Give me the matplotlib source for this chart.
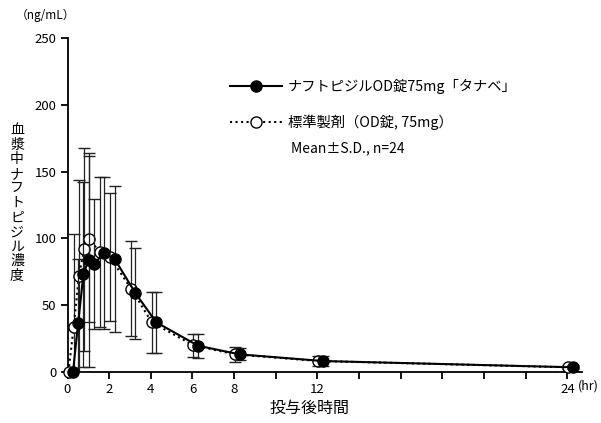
import matplotlib
matplotlib.use("Agg")
import matplotlib.pyplot as plt
from matplotlib.lines import Line2D
from matplotlib.transforms import ScaledTranslation

plt.rcParams['font.family'] = ['Noto Sans CJK JP', 'DejaVu Sans']

# sampling times (hr)
times = [0, 0.25, 0.5, 0.75, 1, 1.5, 2, 3, 4, 6, 8, 12, 24]

# ナフトピジルOD錠75mg「タナベ」 (filled)
test_mean = [0, 36.8, 73, 83.8, 80.8, 88.8, 84.5, 58.8, 37, 19.5, 13, 8, 3.3]
test_sd = [0, 47.5, 69.5, 80, 48.7, 57, 54.8, 34.2, 23, 9, 4.5, 3.5, 1.5]

# 標準製剤（OD錠, 75mg） (open)
ref_mean = [0, 33.8, 71.8, 91.8, 99.5, 89.8, 85.8, 62.3, 37, 19.8, 13, 8, 3.3]
ref_sd = [0, 69.5, 72, 76, 62, 56, 48, 35.7, 23, 8.5, 5.5, 3.8, 1.5]

xticks = list(range(0, 25, 2))
xtick_labels = ["0", "2", "4", "6", "8", "", "12", "", "", "", "", "", "24"]
yticks = [0, 50, 100, 150, 200, 250]

W, H = 601, 423
fig = plt.figure(figsize=(W / 100, H / 100), dpi=100)
ax = fig.add_axes([67.5 / W, 51.3 / H, (582 - 67.5) / W, (371.7 - 38.3) / H])


def draw_series(mean, sd, shift, ls, face, z):
    # the two curves are nudged apart sideways like in the original figure
    trans = ax.transData + ScaledTranslation(shift / 100, 0, fig.dpi_scale_trans)
    eb = ax.errorbar(times, mean, yerr=sd, fmt="none", ecolor="#222222",
                     elinewidth=0.9, capsize=4.5, capthick=1.0, zorder=z)
    for art in eb.lines[1] + eb.lines[2]:
        art.set_transform(trans)
    ax.plot(times, mean, color="black", lw=1.5, ls=ls, marker="o", ms=8,
            mfc=face, mec="black", mew=1.0, transform=trans, clip_on=False,
            zorder=z + 1)


draw_series(ref_mean, ref_sd, 1.0, ":", "white", 3)
draw_series(test_mean, test_sd, 5.5, "-", "black", 5)

ax.set_xlim(0, 24.7)
ax.set_ylim(0, 250)
ax.set_xticks(xticks)
ax.set_xticklabels(xtick_labels)
ax.set_yticks(yticks)
for s in ["top", "right"]:
    ax.spines[s].set_visible(False)
for s in ["left", "bottom"]:
    ax.spines[s].set_linewidth(1.3)
ax.tick_params(direction="out", length=5, width=1.3, labelsize=9.5, pad=3)

# labels
fig.text(17 / W, 1 - 203 / H, "\n".join("血漿中ナフトピジル濃度"), ha="center",
         va="center", fontsize=10, linespacing=1.05)
fig.text(46 / W, 1 - 15 / H, "（ng/mL）", ha="center", va="center", fontsize=8.5)
fig.text(309 / W, 1 - 408 / H, "投与後時間", ha="center", va="center", fontsize=11.5)
fig.text(578 / W, 1 - 386 / H, "(hr)", ha="left", va="center", fontsize=9)

handles = [
    Line2D([], [], color="black", lw=1.5, ls="-", marker="o", ms=8, mfc="black", mec="black"),
    Line2D([], [], color="black", lw=1.5, ls=":", marker="o", ms=8, mfc="white", mec="black"),
]
labels = ["ナフトピジルOD錠75mg「タナベ」", "標準製剤（OD錠, 75mg）"]
fig.legend(handles, labels, loc="upper left", bbox_to_anchor=(230 / W, 1 - 79 / H),
           frameon=False, fontsize=10.3, handlelength=3.6, handletextpad=0.45,
           labelspacing=1.45, borderpad=0, borderaxespad=0)
fig.text(290.7 / W, 1 - 148.3 / H, "Mean±S.D., n=24", ha="left", va="center", fontsize=10)

fig.savefig("out.png", dpi=100)
